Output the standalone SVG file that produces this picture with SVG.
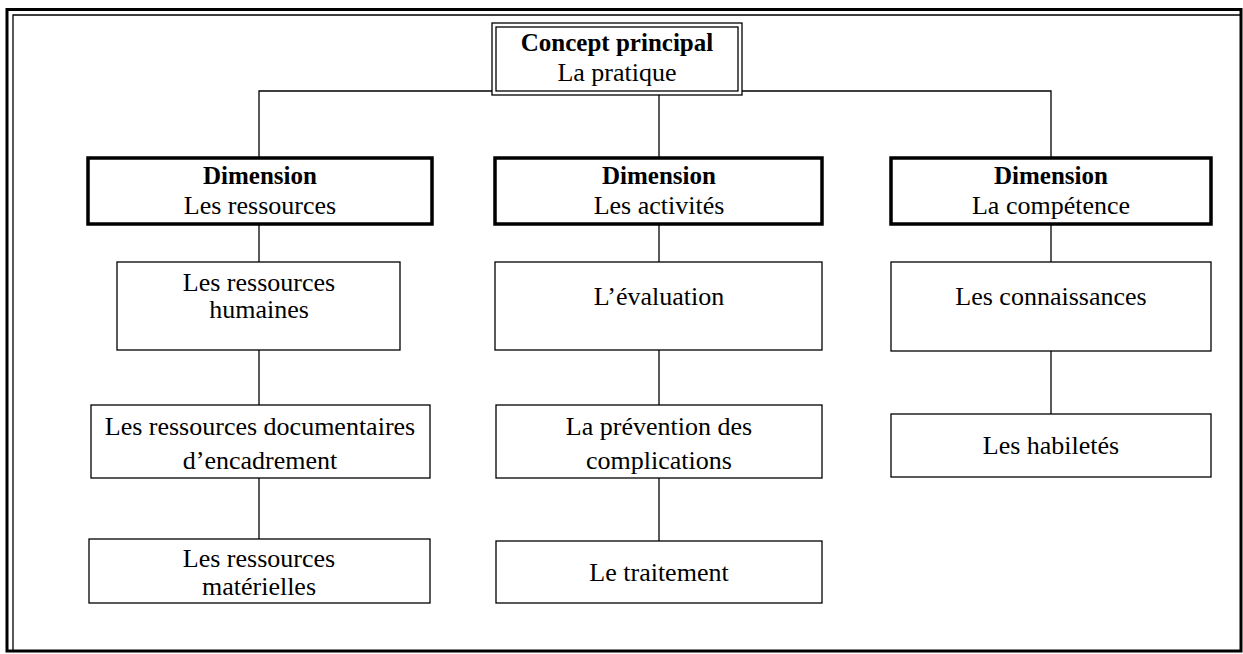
<svg xmlns="http://www.w3.org/2000/svg" width="1243" height="654" viewBox="0 0 1243 654">
<style>
text{font-family:"Liberation Serif","Times New Roman",serif;font-size:26px;fill:#000;text-anchor:middle}
.b{font-weight:bold;font-size:25px}
.thin{fill:#fff;stroke:#000;stroke-width:1.3}
.dim{fill:#fff;stroke:#000;stroke-width:3.5}
.con{fill:none;stroke:#000;stroke-width:1.3}
</style>
<rect width="1243" height="654" fill="#fff"/>
<g id="frame" fill="none" stroke="#000">
<rect x="7" y="9.5" width="1234" height="641.5" stroke-width="3"/>
<polyline points="13,651 13,15 1241,15" stroke-width="1.3"/>
</g>
<g id="connectors" class="con">
<polyline class="con" points="259,158 259,91 1051,91 1051,158"/>
<line class="con" x1="659" y1="95" x2="659" y2="158"/>
<line class="con" x1="259" y1="224" x2="259" y2="539"/>
<line class="con" x1="659" y1="224" x2="659" y2="541"/>
<line class="con" x1="1051" y1="224" x2="1051" y2="414"/>
</g>
<g id="concept">
<rect class="thin" x="492" y="23" width="250" height="72" stroke-width="1.5"/>
<rect class="thin" x="496" y="27" width="242" height="64"/>
<text class="b" x="617" y="51">Concept principal</text>
<text x="617" y="81">La pratique</text>
</g>
<g id="dim1">
<rect class="dim" x="88" y="158" width="344" height="66"/>
<text class="b" x="260" y="184">Dimension</text>
<text x="260" y="214">Les ressources</text>
</g>
<g id="dim2">
<rect class="dim" x="495" y="158" width="327" height="66"/>
<text class="b" x="659" y="184">Dimension</text>
<text x="659" y="214">Les activités</text>
</g>
<g id="dim3">
<rect class="dim" x="891" y="158" width="320" height="66"/>
<text class="b" x="1051" y="184">Dimension</text>
<text x="1051" y="214">La compétence</text>
</g>
<g id="rh">
<rect class="thin" x="117" y="262" width="283" height="88"/>
<text x="259" y="291">Les ressources</text>
<text x="259" y="318">humaines</text>
</g>
<g id="rd">
<rect class="thin" x="91" y="405" width="339" height="73"/>
<text x="260" y="435">Les ressources documentaires</text>
<text x="260" y="469">d’encadrement</text>
</g>
<g id="rm">
<rect class="thin" x="89" y="539" width="341" height="64"/>
<text x="259" y="567">Les ressources</text>
<text x="259" y="595">matérielles</text>
</g>
<g id="ev">
<rect class="thin" x="495" y="262" width="327" height="88"/>
<text x="659" y="305">L’évaluation</text>
</g>
<g id="pr">
<rect class="thin" x="496" y="405" width="326" height="73"/>
<text x="659" y="435">La prévention des</text>
<text x="659" y="469">complications</text>
</g>
<g id="tr">
<rect class="thin" x="496" y="541" width="326" height="62"/>
<text x="659" y="581">Le traitement</text>
</g>
<g id="co">
<rect class="thin" x="891" y="262" width="320" height="89"/>
<text x="1051" y="305">Les connaissances</text>
</g>
<g id="ha">
<rect class="thin" x="891" y="414" width="320" height="63"/>
<text x="1051" y="454">Les habiletés</text>
</g>
</svg>
